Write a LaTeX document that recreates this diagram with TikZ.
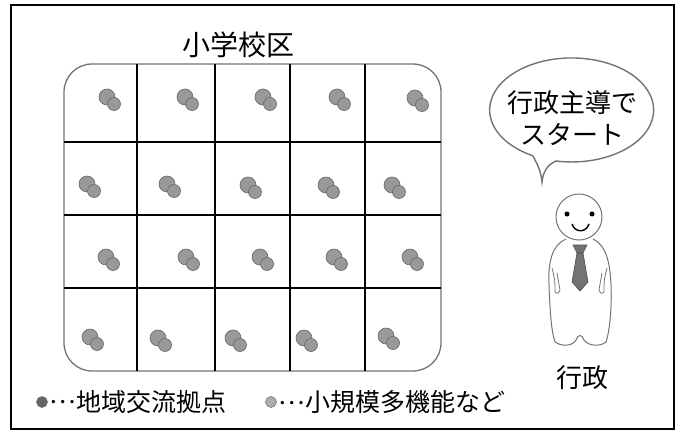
\documentclass[tikz,border=0pt]{standalone}
\usepackage{fontspec}
\newfontfamily\jpfont{Noto Sans CJK JP}
\usetikzlibrary{positioning}
% ellipsis set at mid height, as in running Japanese text
\newcommand{\midell}{\raisebox{0.3em}{…}}

\begin{document}
\begin{tikzpicture}[x=1pt,y=-1pt,
    jp/.style={font=\jpfont\fontsize{#1}{#1}\selectfont, inner sep=0pt},
    gridline/.style={line width=2pt, black},
    spotbig/.style={fill=black!40, draw=black!60, line width=0.6pt},
    legdot/.style={circle, inner sep=0pt, minimum size=11pt, draw=black!60, line width=0.5pt},
    scanline/.style={draw=black!55, line width=1.3pt}]

    \useasboundingbox (0,0) rectangle (681,431);

    % outer frame
    \draw[line width=1.8pt] (11,5) rectangle (674,429);

    % school district
    \node[jp=28] (district) at (238,45) {小学校区};
    \draw[scanline, rounded corners=28pt] (64,64) rectangle (441,371);

    % grid of areas
    \draw[gridline] (64,142) -- (441,142);
    \draw[gridline] (64,215) -- (441,215);
    \draw[gridline] (64,288) -- (441,288);
    \draw[gridline] (137,64) -- (137,371);
    \draw[gridline] (215,64) -- (215,371);
    \draw[gridline] (290,64) -- (290,371);
    \draw[gridline] (365,64) -- (365,371);

    % spots, one per area
    \foreach \x/\y in {107/97, 185/97, 263/97, 337/97, 415/98,
                       87/184, 167/184, 248/185, 326/185, 392/185,
                       106/257, 186/257, 260/257, 334/257, 410/257,
                       90/337, 158/338, 233/338, 304/338, 386/336} {
        \draw[spotbig] (\x,\y) circle (8);
        \draw[spotbig] (\x+7,\y+7) circle (6.5);
    }

    % speech bubble
    \draw[scanline, line width=1.4pt] (556,161)
        arc[start angle=101, end angle=-241.6, x radius=82, y radius=52]
        .. controls (538,165) and (541,172) .. (542,182)
        .. controls (543,172) and (547,165) .. cycle;
    \node[jp=26, align=center] (bubbletext) at (572,118) {行政主導で\\[6pt]スタート};

    % official
    \draw[black!55, line width=1pt] (579,217) circle (23);
    \fill (567,214) circle (2.5);
    \fill (592,214) circle (2.5);
    \draw[line width=1.4pt] (572,224) .. controls (575,233) and (586,233) .. (589,224);
    \draw[black!55, line width=1pt] (566,239)
        .. controls (552,245) and (548,262) .. (549,285)
        .. controls (550,310) and (551,330) .. (555,342)
        .. controls (562,347) and (573,346) .. (576,340)
        .. controls (578,334) and (582,334) .. (584,340)
        .. controls (588,346) and (600,347) .. (606,342)
        .. controls (610,330) and (612,305) .. (611,285)
        .. controls (610,262) and (606,245) .. (593,239);
    \draw[black!55, line width=0.8pt] (552,268) .. controls (555,280) .. (555,292)
        .. controls (558,294) .. (560,290) .. controls (559,282) .. (557,273);
    \draw[black!55, line width=0.8pt] (607,268) .. controls (604,280) .. (604,292)
        .. controls (601,294) .. (599,290) .. controls (600,282) .. (602,273);
    \filldraw[fill=black!55, draw=black!70, line width=0.6pt]
        (573,245) -- (587,245) -- (583,253) -- (577,253) -- cycle;
    \filldraw[fill=black!55, draw=black!70, line width=0.6pt]
        (577,253) -- (583,253) -- (588,282) -- (580,291) -- (572,282) -- cycle;
    \node[jp=26] (official) at (582,378) {行政};

    % legend
    \node[legdot, fill=black!60] (hubdot) at (42,402) {};
    \node[jp=25, right=2pt of hubdot] (hubtext) {\midell 地域交流拠点};
    \node[legdot, fill=black!32] (smalldot) at (271,402) {};
    \node[jp=25, right=2pt of smalldot] (smalltext) {\midell 小規模多機能など};

\end{tikzpicture}
\end{document}
